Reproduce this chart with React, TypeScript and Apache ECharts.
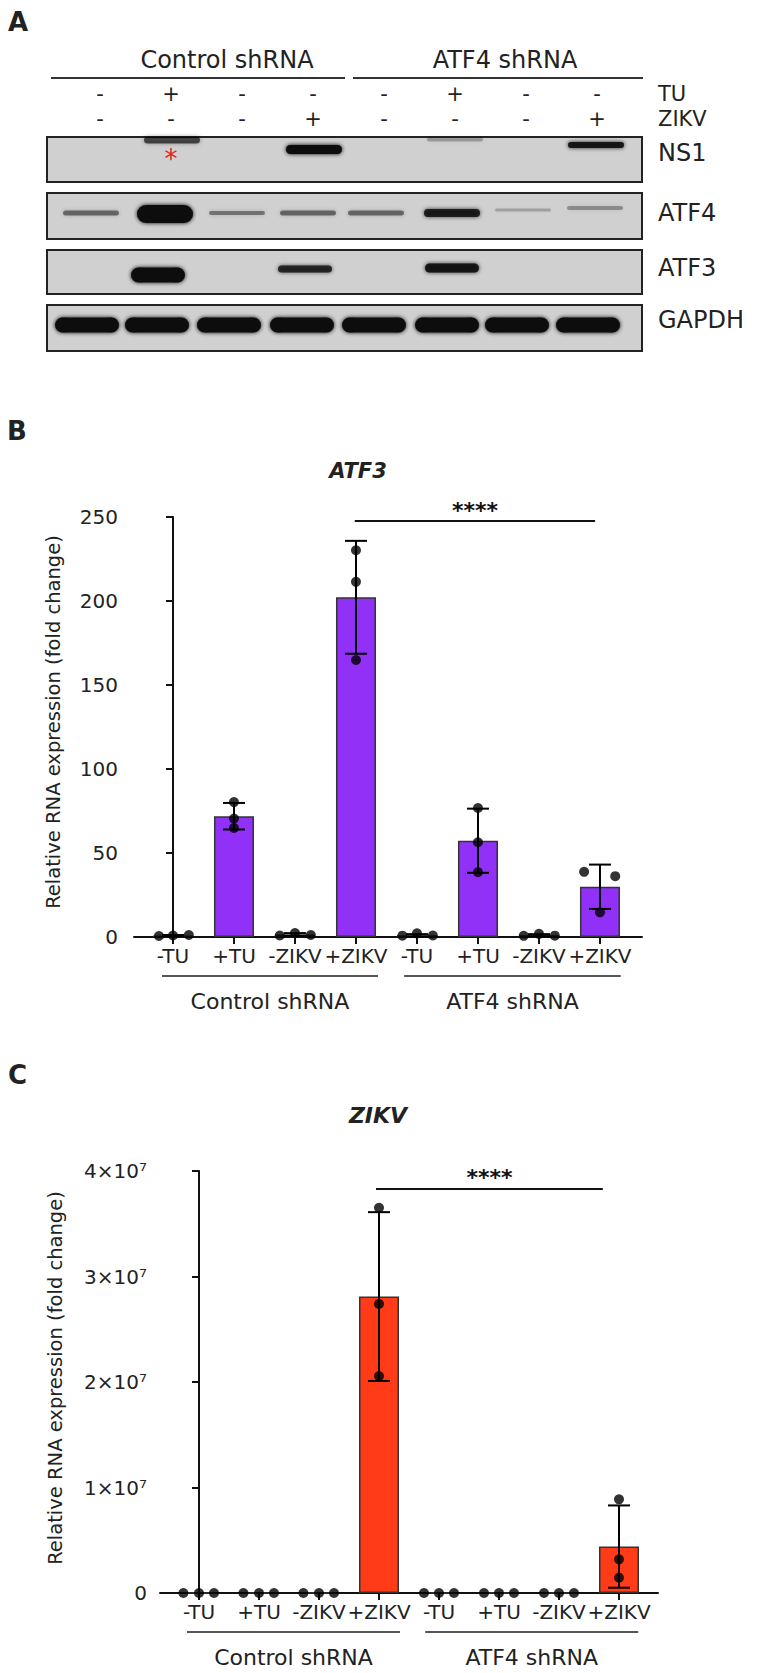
import React, { useEffect, useRef } from "react";
import * as echarts from "echarts";

// ---------------- data ----------------
const categories = ["-TU", "+TU", "-ZIKV", "+ZIKV", "-TU", "+TU", "-ZIKV", "+ZIKV"];
const groupNames = ["Control shRNA", "ATF4 shRNA"];
const yAxisTitle = "Relative RNA expression (fold change)";

// Panel B – ATF3
const atf3Mean = [0.9, 71.9, 1.5, 202.2, 1.0, 57.3, 1.1, 29.9];
const atf3Sd = [0.3, 7.9, 0.8, 33.6, 0.7, 19.1, 0.6, 13.2];
const atf3Dots = [
  [0.6, 0.9, 1.2],
  [80.3, 70.5, 64.9],
  [0.9, 2.4, 1.2],
  [230.2, 211.4, 164.9],
  [0.8, 2.2, 0.9],
  [76.8, 56.4, 38.6],
  [0.7, 1.9, 0.8],
  [38.8, 14.7, 36.2],
];
const atf3Jitter = [
  [-0.23, 0, 0.26],
  [0, 0, 0],
  [-0.25, 0, 0.26],
  [0, 0, 0],
  [-0.24, 0, 0.26],
  [0, 0, 0],
  [-0.25, 0, 0.26],
  [-0.26, 0, 0.25],
];
const atf3Sig = { from: 2.98, to: 6.92, level: 247.6, label: "****" };

// Panel C – ZIKV
const zikvMean = [0, 0, 0, 2.81e7, 0, 0, 0, 0.44e7];
const zikvSd = [0, 0, 0, 0.8e7, 0, 0, 0, 0.39e7];
const zikvDots = [
  [0, 0, 0],
  [0, 0, 0],
  [0, 0, 0],
  [3.652e7, 2.74e7, 2.057e7],
  [0, 0, 0],
  [0, 0, 0],
  [0, 0, 0],
  [0.888e7, 0.319e7, 0.145e7],
];
const zikvJitter = [
  [-0.26, 0, 0.25],
  [-0.26, 0, 0.25],
  [-0.26, 0, 0.25],
  [0, 0, 0],
  [-0.25, 0, 0.25],
  [-0.25, 0, 0.25],
  [-0.25, 0, 0.25],
  [0, 0, 0],
];
const zikvSig = { from: 2.95, to: 6.73, level: 3.83e7, label: "****" };

// Panel A – western blot
const blotLabels = ["NS1", "ATF4", "ATF3", "GAPDH"];
const signTU = ["-", "+", "-", "-", "-", "+", "-", "-"];
const signZIKV = ["-", "-", "-", "+", "-", "-", "-", "+"];
const bandNS1 = [0, 0.6, 0, 1, 0, 0.25, 0, 0.9];
const bandATF4 = [0.45, 1, 0.4, 0.45, 0.45, 0.85, 0.22, 0.3];
const bandATF3 = [0, 1, 0, 0.8, 0, 0.9, 0, 0];
const bandGAPDH = [1, 1, 1, 1, 1, 1, 1, 1];

// ---------------- layout (styles / positions only) ----------------
const FONT = '"DejaVu Sans", sans-serif';
const PURPLE = "#9130f7";
const RED = "#ff3c17";
const INK = "#111";

const blotLayout = {
  x0: 47,
  x1: 642,
  rows: [
    { y: 137, h: 45, xs: [90, 172, 232, 314, 376, 455, 520, 596], ys: [0, 140, 0, 149.5, 0, 139.5, 0, 145], hs: [0, 7, 0, 9, 0, 4, 0, 6], w: 56 },
    { y: 193, h: 46, xs: [91, 165, 237, 308, 376, 452, 523, 595], ys: [213, 214, 213, 213, 213, 213, 210, 208], hs: [5, 18, 4, 5, 5, 8, 3, 4], w: 56 },
    { y: 250, h: 44, xs: [90, 158, 232, 305, 376, 452, 520, 592], ys: [275, 275, 275, 269, 275, 268, 275, 275], hs: [0, 15, 0, 7, 0, 9, 0, 0], w: 54 },
    { y: 305, h: 46, xs: [87, 157, 229, 302, 374, 447, 517, 588], ys: [325, 325, 325, 325, 325, 325, 325, 325], hs: [15, 15, 15, 15, 15, 15, 15, 15], w: 64 },
  ],
};
const blotBands = [bandNS1, bandATF4, bandATF3, bandGAPDH];

const groupSpans = [
  [[-0.18, 3.36], [3.79, 7.34]],
  [[-0.2, 3.35], [3.77, 7.32]],
];
const yTitlePos = [
  { x: 53, y: 722 },
  { x: 55, y: 1378 },
];

function txt(x: number, y: number, s: string, size: number, o: any = {}) {
  const align = o.align || "center";
  return {
    type: "text",
    x,
    y,
    rotation: o.rotation || 0,
    silent: true,
    z: 10,
    style: {
      text: s,
      fontSize: size,
      fontFamily: FONT,
      fontWeight: o.bold ? "bold" : "normal",
      fontStyle: o.italic ? "italic" : "normal",
      fill: o.color || "#222",
      align,
      textAlign: align,
      verticalAlign: "middle",
      textVerticalAlign: "middle",
    },
  };
}
function ln(x1: number, y1: number, x2: number, y2: number, color = INK, w = 2) {
  return { type: "line", silent: true, z: 10, shape: { x1, y1, x2, y2 }, style: { stroke: color, lineWidth: w } };
}

function errorBarSeries(xi: number, means: number[], sds: number[]) {
  return {
    type: "custom",
    xAxisIndex: xi,
    yAxisIndex: xi,
    z: 3,
    silent: true,
    data: means.map((m, i) => [i, m, sds[i]]),
    encode: { x: 0, y: 1 },
    renderItem: (params: any, api: any) => {
      const x = api.value(0);
      const m = api.value(1);
      const s = api.value(2);
      if (!s) return null;
      const top = api.coord([x, m + s]);
      const bot = api.coord([x, m - s]);
      const half = 11;
      const st = { stroke: "#000", lineWidth: 2 };
      return {
        type: "group",
        children: [
          { type: "line", shape: { x1: top[0], y1: top[1], x2: bot[0], y2: bot[1] }, style: st },
          { type: "line", shape: { x1: top[0] - half, y1: top[1], x2: top[0] + half, y2: top[1] }, style: st },
          { type: "line", shape: { x1: bot[0] - half, y1: bot[1], x2: bot[0] + half, y2: bot[1] }, style: st },
        ],
      };
    },
  };
}

function dotSeries(xi: number, dots: number[][], jitter: number[][], sig: any) {
  const data: number[][] = [];
  dots.forEach((g, i) => g.forEach((v, r) => data.push([i + jitter[i][r], v])));
  return {
    type: "scatter",
    xAxisIndex: xi,
    yAxisIndex: xi,
    z: 4,
    silent: true,
    symbol: "circle",
    symbolSize: 10,
    itemStyle: { color: "#000" },
    data,
    markLine: {
      silent: true,
      symbol: ["none", "none"],
      lineStyle: { type: "solid", color: INK, width: 2 },
      label: {
        show: true,
        position: "middle",
        formatter: sig.label,
        fontSize: 22,
        fontWeight: "bold",
        fontFamily: FONT,
        color: INK,
        distance: 0,
      },
      data: [[{ coord: [sig.from, sig.level] }, { coord: [sig.to, sig.level] }]],
    },
  };
}

function barSeries(xi: number, means: number[], color: string) {
  return {
    type: "bar",
    xAxisIndex: xi,
    yAxisIndex: xi,
    z: 2,
    silent: true,
    barWidth: 40,
    itemStyle: { color, borderColor: "#333", borderWidth: 1.5 },
    data: means.map((m, i) => [i, m]),
  };
}

function xAxisCfg(gi: number, min: number, max: number) {
  const ticks = categories.map((_, i) => i);
  return {
    gridIndex: gi,
    type: "value",
    min,
    max,
    splitLine: { show: false },
    axisLine: { show: true, onZero: false, lineStyle: { color: INK, width: 2 } },
    axisTick: { show: true, customValues: ticks, length: 7, lineStyle: { color: INK, width: 2 } },
    axisLabel: {
      customValues: ticks,
      showMinLabel: true,
      showMaxLabel: true,
      hideOverlap: false,
      formatter: (v: number) => categories[Math.round(v)] || "",
      fontSize: 20,
      fontFamily: FONT,
      color: "#222",
      margin: 9,
    },
  };
}

function yAxisCfg(gi: number, max: number, interval: number, margin: number, fmt?: any) {
  return {
    gridIndex: gi,
    type: "value",
    min: 0,
    max,
    interval,
    splitLine: { show: false },
    axisLine: { show: true, lineStyle: { color: INK, width: 2 } },
    axisTick: { show: true, length: 7, lineStyle: { color: INK, width: 2 } },
    axisLabel: { fontSize: 20, fontFamily: FONT, color: "#222", margin, formatter: fmt },
  };
}

export default function App() {
  const ref = useRef<HTMLDivElement>(null);
  useEffect(() => {
    const chart = echarts.init(ref.current!, null, { renderer: "svg" });
    const option: any = {
      animation: false,
      backgroundColor: "#fff",
      textStyle: { fontFamily: FONT },
      grid: [
        { left: 134, top: 517, width: 508, height: 420, containLabel: false },
        { left: 160, top: 1171, width: 498, height: 422, containLabel: false },
      ],
      xAxis: [xAxisCfg(0, -0.639, 7.689), xAxisCfg(1, -0.65, 7.65)],
      yAxis: [
        yAxisCfg(0, 250, 50, 16),
        yAxisCfg(1, 4e7, 1e7, 13, (v: number) => (v === 0 ? "0" : `${Math.round(v / 1e7)}×10⁷`)),
      ],
      series: [
        barSeries(0, atf3Mean, PURPLE),
        errorBarSeries(0, atf3Mean, atf3Sd),
        dotSeries(0, atf3Dots, atf3Jitter, atf3Sig),
        barSeries(1, zikvMean, RED),
        errorBarSeries(1, zikvMean, zikvSd),
        dotSeries(1, zikvDots, zikvJitter, zikvSig),
      ],
    };
    chart.setOption(option);

    const els: any[] = [];
    // panel letters
    els.push(txt(8, 22, "A", 26, { bold: true, align: "left" }));
    els.push(txt(7, 431, "B", 26, { bold: true, align: "left" }));
    els.push(txt(8, 1075, "C", 26, { bold: true, align: "left" }));

    // ---- Panel A ----
    els.push(txt(227, 60, groupNames[0], 24));
    els.push(txt(505, 60, groupNames[1], 24));
    els.push(ln(51, 78, 345, 78, "#333", 2));
    els.push(ln(353, 78, 643, 78, "#333", 2));
    signTU.forEach((s, i) => els.push(txt(100 + 71 * i, 94, s, 21)));
    signZIKV.forEach((s, i) => els.push(txt(100 + 71 * i, 119, s, 21)));
    els.push(txt(658, 94, "TU", 21, { align: "left" }));
    els.push(txt(658, 119, "ZIKV", 21, { align: "left" }));
    const labelY = [153, 213, 268, 320];
    blotLayout.rows.forEach((row, ri) => {
      els.push({
        type: "rect",
        silent: true,
        z: 5,
        shape: { x: blotLayout.x0, y: row.y, width: blotLayout.x1 - blotLayout.x0, height: row.h },
        style: { fill: "#d0d0d0", stroke: "#222", lineWidth: 2 },
      });
      blotBands[ri].forEach((inten, li) => {
        if (!inten || !row.hs[li]) return;
        const h = row.hs[li];
        const c = `rgba(10,10,10,${inten})`;
        els.push({
          type: "rect",
          silent: true,
          z: 6,
          shape: { x: row.xs[li] - row.w / 2, y: row.ys[li] - h / 2, width: row.w, height: h, r: h / 2 },
          style: { fill: c, shadowBlur: 4, shadowColor: c },
        });
      });
      els.push(txt(658, labelY[ri], blotLabels[ri], 24, { align: "left" }));
    });
    els.push(txt(171, 159, "*", 26, { color: "#e0231f" }));

    // ---- titles ----
    els.push(txt(358, 471, "ATF3", 21, { bold: true, italic: true }));
    els.push(txt(378, 1115, "ZIKV", 22, { bold: true, italic: true }));

    // ---- y-axis titles ----
    yTitlePos.forEach((p) => els.push(txt(p.x, p.y, yAxisTitle, 19.5, { rotation: Math.PI / 2 })));

    // ---- group underlines and names ----
    [0, 1].forEach((gi) => {
      groupSpans[gi].forEach((span, k) => {
        const a = chart.convertToPixel({ gridIndex: gi } as any, [span[0], 0]) as number[];
        const b = chart.convertToPixel({ gridIndex: gi } as any, [span[1], 0]) as number[];
        const yAxis = a[1];
        els.push(ln(a[0], yAxis + 39, b[0], yAxis + 39, "#555", 2));
        els.push(txt((a[0] + b[0]) / 2, yAxis + 64, groupNames[k], 22));
      });
    });

    chart.setOption({ graphic: { elements: els } });
    return () => chart.dispose();
  }, []);
  return <div ref={ref} style={{ position: "absolute", left: 0, top: 0, width: 759, height: 1673 }} />;
}
